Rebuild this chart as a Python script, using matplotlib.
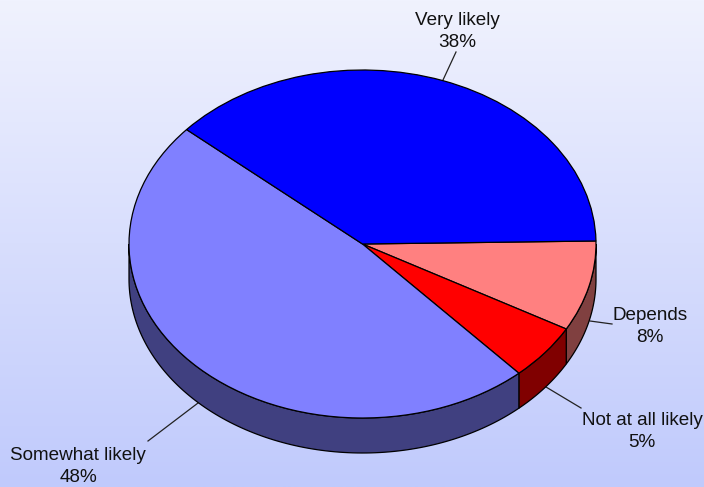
import numpy as np
import matplotlib
matplotlib.use('Agg')
import matplotlib.pyplot as plt
from matplotlib.colors import LinearSegmentedColormap

plt.rcParams['font.family'] = ['Liberation Sans', 'DejaVu Sans']

# clockwise from the right hand side of the pie
labels = ['Depends', 'Not at all likely', 'Somewhat likely', 'Very likely']
shares = [8.4, 5.2, 48.1, 38.3]
printed = [8, 5, 48, 38]
top_colors = ['#FF8080', '#FF0000', '#8080FF', '#0000FF']
side_colors = ['#804040', '#800000', '#404080', '#000080']

W, H = 704, 487
cx, cy, rx, ry = 362.5, 244, 233.5, 174
depth = 35 / ry
start = 1.0


# picture pixels to pie units
def pp(x, y):
    return (x - cx) / rx, (cy - y) / ry


fig = plt.figure(figsize=(W / 100, H / 100), dpi=100)

# background fade
bg = fig.add_axes([0, 0, 1, 1], zorder=0)
fade = LinearSegmentedColormap.from_list('fade', ['#F0F2FE', '#C0CAFC'])
bg.imshow(np.linspace(0, 1, 256).reshape(-1, 1), cmap=fade, aspect='auto')
bg.axis('off')

ax = fig.add_axes([0, 0, 1, 1], zorder=1)
ax.patch.set_alpha(0)
ax.pie(shares, colors=top_colors, startangle=start, counterclock=False, radius=1,
       wedgeprops={'edgecolor': 'black', 'linewidth': 0.9, 'zorder': 5})
ax.set_aspect('auto')
ax.set_xlim(pp(0, 0)[0], pp(W, 0)[0])
ax.set_ylim(pp(0, H)[1], pp(0, 0)[1])
ax.axis('off')

# side wall, only the part of each slice that faces front
ends = start - 3.6 * np.cumsum(shares)
begins = np.r_[start, ends[:-1]]
for a, b, col in zip(begins, ends, side_colors):
    a2 = min(a, 0)
    b2 = max(b, -180)
    if a2 <= b2:
        continue
    t = np.radians(np.linspace(a2, b2, 120))
    xs = np.r_[np.cos(t), np.cos(t)[::-1]]
    ys = np.r_[np.sin(t), np.sin(t)[::-1] - depth]
    ax.fill(xs, ys, facecolor=col, edgecolor='black', linewidth=0.9, zorder=2)

# labels and their leader lines
label_xy = [(650, 326.5), (642, 431.5), (78, 466.5), (457, 31.5)]
leaders = [((612, 324), (590, 321)), ((581, 408), (546, 387)),
           ((148, 441), (198, 403)), ((456, 52), (443, 80))]
for name, p, xy, ln in zip(labels, printed, label_xy, leaders):
    ax.text(*pp(*xy), '%s\n%d%%' % (name, p), ha='center', va='center', fontsize=13.6,
            color='#111111', linespacing=1.4, zorder=7)
    p0, p1 = pp(*ln[0]), pp(*ln[1])
    ax.plot([p0[0], p1[0]], [p0[1], p1[1]], color='#222222', lw=0.9, zorder=1)

fig.savefig('out.png', dpi=100)
